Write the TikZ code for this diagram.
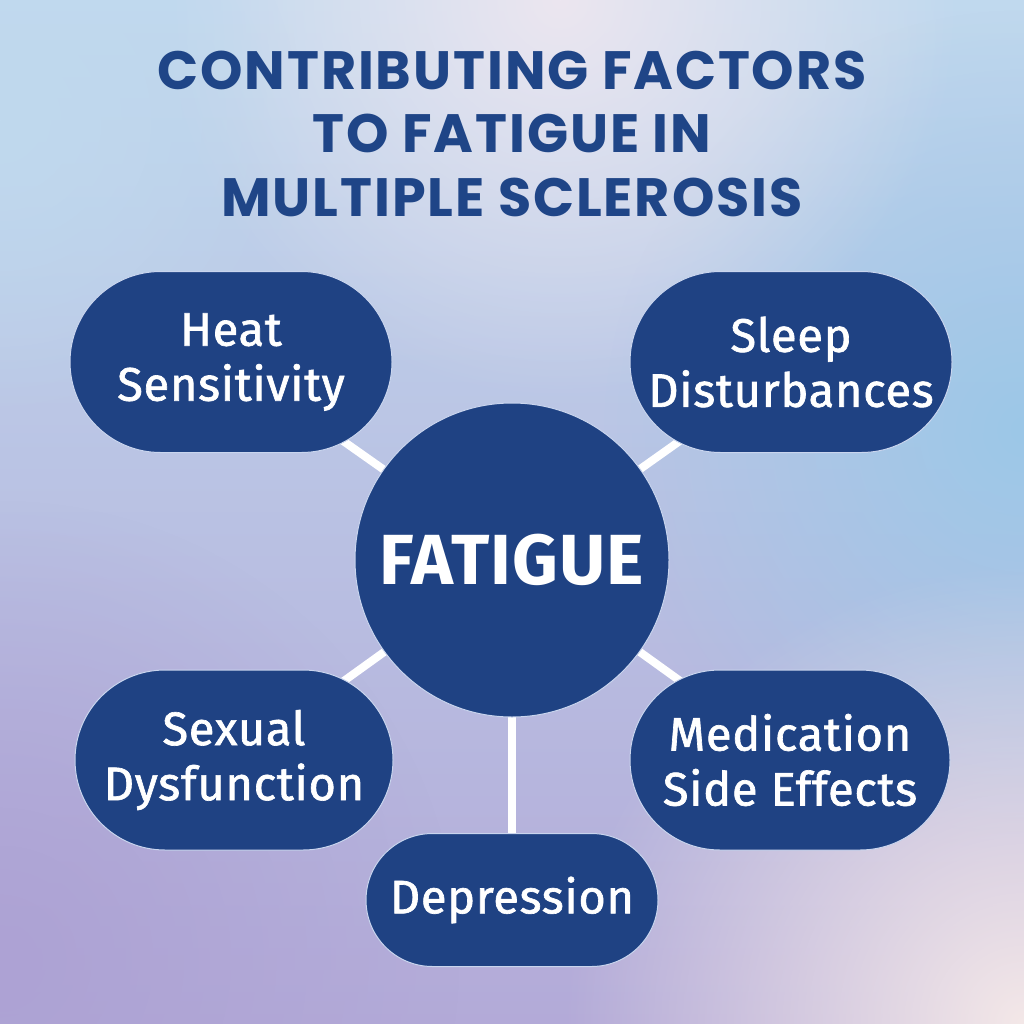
\documentclass[tikz,border=0pt]{standalone}
\usepackage{fontspec}
\setmainfont{Fira Sans}
\newfontfamily\titlefont[LetterSpace=3.5]{Poppins}
\newfontfamily\pillfont[FakeBold=1.4,LetterSpace=1.5]{Fira Sans}
\newfontfamily\hubfont[LetterSpace=1.5]{Fira Sans}
\usetikzlibrary{shapes.misc,fadings}
\definecolor{navy}{HTML}{1F4283}
\definecolor{titleblue}{HTML}{1F4587}
\definecolor{bgtop}{HTML}{C0D9EE}
\definecolor{bgbot}{HTML}{B3AAD8}
\definecolor{blobblue}{HTML}{9CC8E8}
\definecolor{blobpink}{HTML}{ECE6F0}
\definecolor{blobrose}{HTML}{F4E8E8}
\definecolor{bloblav}{HTML}{ADA2D4}
\definecolor{edge}{HTML}{C9D5EE}
\tikzfading[name=blob, inner color=transparent!0, outer color=transparent!100]
\pgfdeclarelayer{bg}
\pgfdeclarelayer{conn}
\pgfsetlayers{bg,conn,main}
\begin{document}
\begin{tikzpicture}[x=1pt,y=-1pt,
  pill/.style={rounded rectangle, fill=navy, draw=edge, line width=1pt, text=white,
    font=\pillfont\fontsize{47}{55}\selectfont, align=center, inner sep=0pt},
  hub/.style={circle, fill=navy, draw=edge, line width=1pt, minimum size=314pt, text=white,
    font=\hubfont\bfseries\fontsize{71}{71}\selectfont, inner sep=0pt},
  ttl/.style={anchor=base, text=titleblue, font=\titlefont\bfseries\fontsize{54}{63}\selectfont, inner sep=0pt},
  link/.style={draw=white, line width=8pt}]
\useasboundingbox (0,0) rectangle (1024,1024);
\begin{pgfonlayer}{bg}
  \shade[top color=bgtop, bottom color=bgbot] (0,0) rectangle (1024,1024);
  \begin{scope}
    \clip (0,0) rectangle (1024,1024);
    \fill[bloblav, path fading=blob] (0,960) circle (460);
    \fill[blobblue, path fading=blob] (1024,430) circle (420);
    \fill[blobpink, path fading=blob] (560,0) circle (400);
    \fill[blobrose, path fading=blob] (1024,1024) circle (460);
    \fill[bgtop, path fading=blob] (0,120) circle (300);
  \end{scope}
\end{pgfonlayer}

\node[ttl] (t1) at (512,90) {CONTRIBUTING FACTORS};
\node[ttl] (t2) at (512,153) {TO FATIGUE IN};
\node[ttl] (t3) at (512,217) {MULTIPLE SCLEROSIS};

\node[hub] (fat) at (512,560) {FATIGUE};
\node[pill, minimum width=322pt, minimum height=181pt] (heat) at (231,362) {Heat\\Sensitivity};
\node[pill, minimum width=322pt, minimum height=181pt] (sleep) at (791,362) {Sleep\\Disturbances};
\node[pill, minimum width=318pt, minimum height=180pt] (sex) at (234,760) {Sexual\\Dysfunction};
\node[pill, minimum width=320pt, minimum height=180pt] (med) at (790,760) {Medication\\Side Effects};
\node[pill, minimum width=292pt, minimum height=133pt] (dep) at (512,900) {Depression};

\begin{pgfonlayer}{conn}
  \draw[link] (fat.center) -- (heat.center);
  \draw[link] (fat.center) -- (sleep.center);
  \draw[link] (fat.center) -- (sex.center);
  \draw[link] (fat.center) -- (med.center);
  \draw[link] (fat.center) -- (dep.center);
\end{pgfonlayer}
\end{tikzpicture}
\end{document}
